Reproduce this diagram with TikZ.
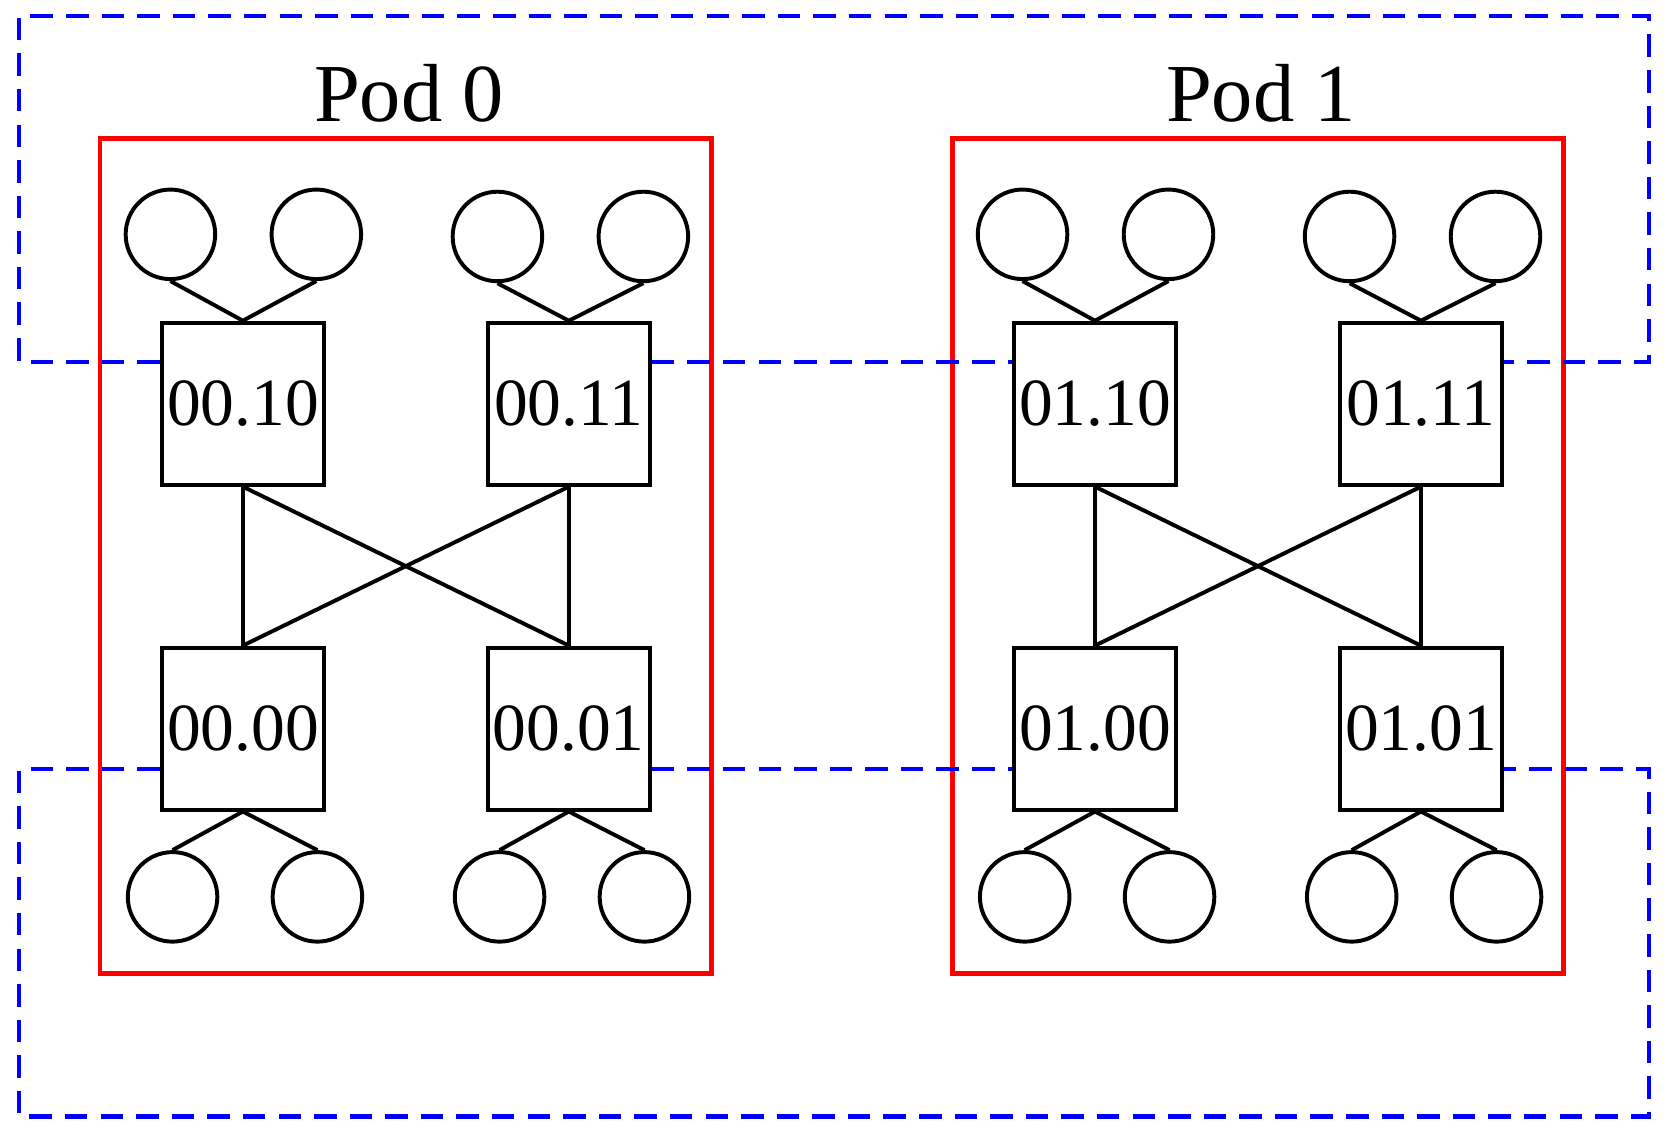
\documentclass[tikz,border=0pt]{standalone}
\usepackage{fontspec}
\setmainfont{Liberation Serif}
\usetikzlibrary{positioning}
\begin{document}
\begin{tikzpicture}[x=0.01cm, y=-0.01cm, line width=1.05pt,
  switch/.style={draw, minimum size=1.52cm, inner sep=0pt, font=\fontsize{18}{18}\selectfont},
  host/.style={draw, circle, minimum size=0.84cm, inner sep=0pt},
  pod/.style={draw=red, line width=1.2pt},
  ring/.style={draw=blue, dash pattern=on 6pt off 3.5pt, line width=1.2pt}]
\useasboundingbox (0,0) rectangle (1565,1070);

\foreach \p/\dx in {0/0, 1/800} {
  \begin{scope}[xshift=\dx*0.01cm]
  % pod frame and title
  \draw[pod] (94,130) rectangle (668,914);
  \node[font=\fontsize{22}{22}\selectfont] (title\p) at (384,88) {Pod \p};
  % switches
  \node[switch] (s\p10) at (228,379) {0\p.10};
  \node[switch] (s\p11) at (534,379) {0\p.11};
  \node[switch] (s\p00) at (228,684) {0\p.00};
  \node[switch] (s\p01) at (534,684) {0\p.01};
  \draw (s\p10.south) -- (s\p00.north);
  \draw (s\p10.south) -- (s\p01.north);
  \draw (s\p11.south) -- (s\p00.north);
  \draw (s\p11.south) -- (s\p01.north);
  % hosts
  \node[host] (h\p a) at (160,220) {};
  \node[host] (h\p b) at (297,220) {};
  \node[host] (h\p c) at (467,222) {};
  \node[host] (h\p d) at (604,222) {};
  \node[host] (h\p e) at (162,842) {};
  \node[host] (h\p f) at (298,842) {};
  \node[host] (h\p g) at (469,842) {};
  \node[host] (h\p h) at (605,842) {};
  \draw (h\p a.south) -- (s\p10.north) -- (h\p b.south);
  \draw (h\p c.south) -- (s\p11.north) -- (h\p d.south);
  \draw (h\p e.north) -- (s\p00.south) -- (h\p f.north);
  \draw (h\p g.north) -- (s\p01.south) -- (h\p h.north);
  \end{scope}
}

% inter-pod rings
\coordinate (tl) at (18,15);
\coordinate (tr) at (1548,15);
\coordinate (bl) at (18,1048);
\coordinate (br) at (1548,1048);
\coordinate (up) at (0,340);
\coordinate (lo) at (0,722);
\draw[ring] (s010.west |- up) -| (tl) -- (tr) |- (s111.east |- up);
\draw[ring] (s011.east |- up) -- (s110.west |- up);
\draw[ring] (s000.west |- lo) -| (bl) -- (br) |- (s101.east |- lo);
\draw[ring] (s001.east |- lo) -- (s100.west |- lo);
\end{tikzpicture}
\end{document}
